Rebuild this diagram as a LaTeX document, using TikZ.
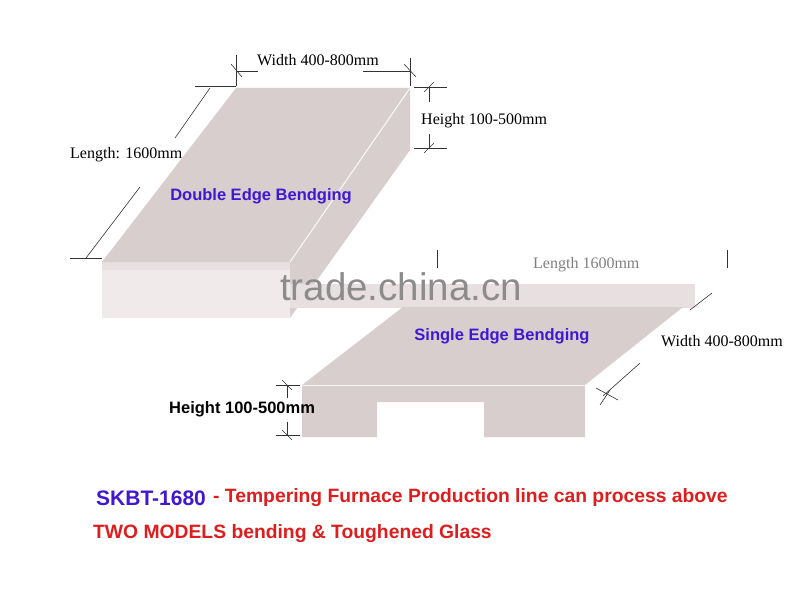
\documentclass[tikz,border=0pt]{standalone}
\usepackage{fontspec}
\setmainfont{Liberation Serif}
\newfontfamily\arial{Liberation Sans}
\definecolor{glass}{RGB}{216,206,206}
\definecolor{glassl}{RGB}{232,224,224}
\definecolor{bl}{RGB}{64,24,210}
\definecolor{rd}{RGB}{222,30,30}
\tikzset{dim/.style={line width=0.6pt,black!80},
 lbl/.style={font=\fontsize{16}{18}\selectfont,inner sep=0pt},
 blbl/.style={font=\arial\bfseries\fontsize{16.5}{18}\selectfont,text=bl,inner sep=0pt}}
\begin{document}
\begin{tikzpicture}[x=1pt,y=-1pt]
\useasboundingbox (0,0) rectangle (800,599);
\fill[white] (0,0) rectangle (800,599);
% top shape
\fill[glassl] (102,262) rectangle (290,318);
\fill[glass] (410,88) -- (410,150) -- (290,318) -- (290,262) -- cycle;
\fill[glass] (236,88) -- (410,88) -- (290,262) -- (102,262) -- cycle;
\draw[white!90!glass,line width=1pt] (410,88) -- (290,262);
\fill[white,opacity=0.35] (102,270) rectangle (290,320);
% top dims
\draw[dim] (70,258) -- (102,258) (195,86) -- (236,86);
\draw[dim] (210,88) -- (175,138) (140,187) -- (86,258);
\draw[dim] (236,55) -- (236,86) (410,58) -- (410,86);
\draw[dim] (236,71) -- (258,71) (363,71) -- (410,71);
\draw[dim] (231,64) -- (242,77) (404,64) -- (416,77);
\draw[dim] (414,87) -- (447,87) (414,148) -- (447,148);
\draw[dim] (429,87) -- (429,102) (429,134) -- (429,148);
\draw[dim] (424,92) -- (434,82) (424,153) -- (434,143);
\node[lbl,anchor=west] (w1) at (257,60) {Width 400-800mm};
\node[lbl,anchor=west] (h1) at (421,121) {Height 100-500mm};
\node[lbl,anchor=west] (l1) at (70,155) {Length: 1600mm};
\node[blbl] (d1) at (261,196) {Double Edge Bendging};
% bottom shape
\fill[glassl] (290,284) rectangle (695,308);
\fill[glass] (403,307) -- (683,307) -- (585,385) -- (302,385) -- cycle;
\fill[glass] (302,385) -- (585,385) -- (585,437) -- (484,437) -- (484,402) -- (377,402) -- (377,437) -- (302,437) -- cycle;
\draw[white!70!glass,line width=0.8pt] (302,385) -- (585,385);
\draw[dim] (276,385) -- (300,385) (276,435) -- (300,435);
\draw[dim] (287,385) -- (287,398) (287,422) -- (287,435);
\draw[dim] (282,380) -- (292,390) (282,430) -- (292,440);
\draw[dim] (603,396) -- (640,363) (690,310) -- (712,293);
\draw[dim] (596,388) -- (618,400) (600,405) -- (610,390);
\draw[dim] (437,250) -- (437,268) (727,250) -- (727,268);
\node[lbl,anchor=west] (w2) at (661,341) {Width 400-800mm};
\node[lbl,anchor=west,opacity=0.5] (l2) at (533,265) {Length 1600mm};
\node[blbl] (s1) at (502,336) {Single Edge Bendging};
\node[font=\arial\bfseries\fontsize{16.5}{18}\selectfont,anchor=west,inner sep=0pt] (h2) at (169,409) {Height 100-500mm};
% watermark
\node[font=\arial\fontsize{38.5}{42}\selectfont,text=black!45,inner sep=0pt] (wm) at (401,287) {trade.china.cn};
% bottom text
\node[font=\arial\bfseries\fontsize{21}{24}\selectfont,text=bl,anchor=west,inner sep=0pt] (sk) at (96,498) {SKBT-1680};
\node[font=\arial\bfseries\fontsize{19.3}{22}\selectfont,text=rd,anchor=west,inner sep=0pt] (t1) at (213,498) {- Tempering Furnace Production line can process above};
\node[font=\arial\bfseries\fontsize{19.3}{22}\selectfont,text=rd,anchor=west,inner sep=0pt] (t2) at (93,534) {TWO MODELS bending \& Toughened Glass};
\end{tikzpicture}
\end{document}
